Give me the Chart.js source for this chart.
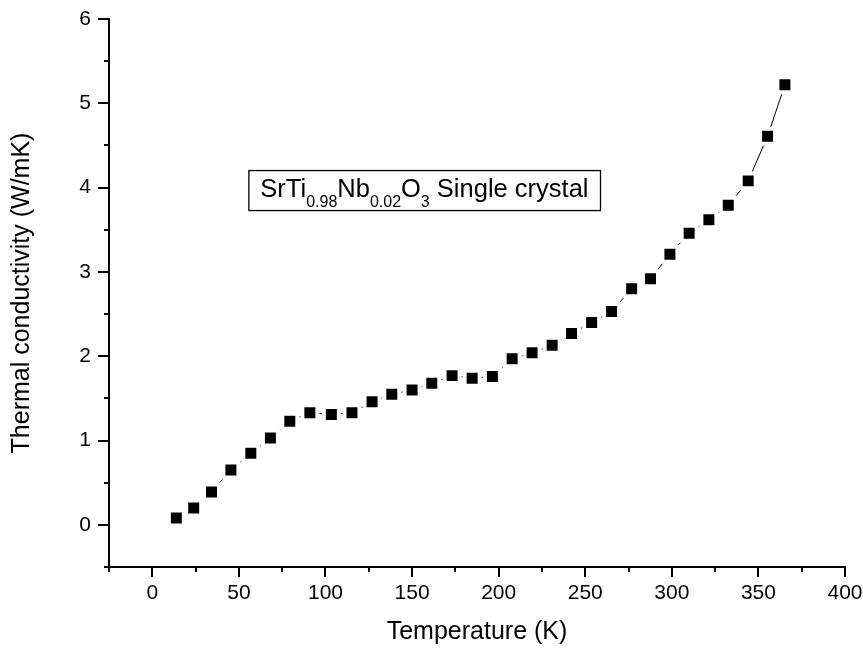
<!DOCTYPE html>
<html>
<head>
<meta charset="utf-8">
<title>Thermal conductivity</title>
<script src="https://cdn.jsdelivr.net/npm/chart.js@4.4.1/dist/chart.umd.min.js"></script>
<style>
    html, body { margin: 0; padding: 0; background: #fff; }
    #chart { display: block; }
</style>
</head>
<body>
<canvas id="chart" width="863" height="648"></canvas>
<script>
// Measured points: temperature (K) vs thermal conductivity (W/mK)
const temperature = [13.9, 23.9, 34.2, 45.4, 56.9, 68.2, 79.4, 91.0, 103.4, 115.3, 126.9, 138.3,
    150.0, 161.4, 173.1, 184.7, 196.4, 207.8, 219.3, 230.9, 242.1, 253.7, 265.2, 276.8,
    287.7, 298.9, 310.0, 321.4, 332.6, 344.1, 355.3, 365.3];
const conductivity = [0.08, 0.20, 0.39, 0.65, 0.85, 1.03, 1.23, 1.33, 1.31, 1.33, 1.46, 1.55,
    1.60, 1.68, 1.77, 1.74, 1.76, 1.97, 2.04, 2.13, 2.27, 2.40, 2.53, 2.80,
    2.92, 3.21, 3.46, 3.62, 3.79, 4.08, 4.61, 5.22];

// Minor tick positions on each axis
const xMinorTicks = [-25, 25, 75, 125, 175, 225, 275, 325, 375];
const yMinorTicks = [-0.5, 0.5, 1.5, 2.5, 3.5, 4.5, 5.5];

// Sample label, split into normal / subscript runs
const sampleLabel = [
    ['SrTi', false], ['0.98', true], ['Nb', false], ['0.02', true],
    ['O', false], ['3', true], [' Single crystal', false]
];

const FONT = "'Liberation Sans', Arial, Helvetica, sans-serif";

const points = temperature.map((t, i) => ({ x: t, y: conductivity[i] }));

// Draws the short minor ticks and the boxed sample label
const extrasPlugin = {
    id: 'extras',
    afterDraw(chart) {
        const ctx = chart.ctx;
        const xs = chart.scales.x;
        const ys = chart.scales.y;
        const area = chart.chartArea;

        ctx.save();
        ctx.strokeStyle = '#000';
        ctx.lineWidth = 2;
        ctx.beginPath();
        xMinorTicks.forEach(v => {
            const px = Math.round(xs.getPixelForValue(v));
            ctx.moveTo(px, area.bottom);
            ctx.lineTo(px, area.bottom + 5);
        });
        yMinorTicks.forEach(v => {
            const py = Math.round(ys.getPixelForValue(v));
            ctx.moveTo(area.left, py);
            ctx.lineTo(area.left - 5, py);
        });
        ctx.stroke();

        // label text, anchored in data units
        const bigFont = '25.5px ' + FONT;
        const subFont = '16px ' + FONT;
        let x = xs.getPixelForValue(62.4);
        const baseY = ys.getPixelForValue(3.888);
        const startX = x;
        ctx.fillStyle = '#000';
        ctx.textBaseline = 'alphabetic';
        ctx.textAlign = 'left';
        sampleLabel.forEach(([txt, sub]) => {
            ctx.font = sub ? subFont : bigFont;
            ctx.fillText(txt, x, sub ? baseY + 10 : baseY);
            x += ctx.measureText(txt).width;
        });
        ctx.lineWidth = 1.3;
        ctx.strokeRect(startX - 11.5, baseY - 26.5, (x - startX) + 23.5, 40);
        ctx.restore();
    }
};

const ctx = document.getElementById('chart').getContext('2d');
const chart = new Chart(ctx, {
    type: 'line',
    data: {
        datasets: [{
            data: points,
            borderColor: '#000',
            borderWidth: 1,
            tension: 0,
            pointStyle: 'rect',
            pointRadius: 10.6,
            pointBackgroundColor: '#000',
            pointBorderColor: '#fff',
            pointBorderWidth: 4,
            pointHoverRadius: 10.6,
            fill: false
        }]
    },
    options: {
        responsive: false,
        animation: false,
        events: [],
        layout: {
            padding: { top: 19, right: 18, left: 0, bottom: 0 }
        },
        plugins: {
            legend: { display: false },
            tooltip: { enabled: false }
        },
        scales: {
            x: {
                type: 'linear',
                min: -25,
                max: 400,
                afterFit: (scale) => {
                    scale.height = 81;
                    scale.paddingLeft = 0;
                    scale.paddingRight = 0;
                },
                ticks: {
                    stepSize: 50,
                    includeBounds: false,
                    maxRotation: 0,
                    color: '#000',
                    padding: 4,
                    font: { family: FONT, size: 21 }
                },
                grid: {
                    drawOnChartArea: false,
                    drawTicks: true,
                    tickLength: 10,
                    color: '#000',
                    lineWidth: 2
                },
                border: { display: true, color: '#000', width: 2 },
                title: {
                    display: true,
                    text: 'Temperature (K)',
                    color: '#000',
                    font: { family: FONT, size: 25 },
                    padding: { top: 0, bottom: 1 }
                }
            },
            y: {
                type: 'linear',
                min: -0.5,
                max: 6,
                afterFit: (scale) => {
                    scale.width = 109;
                    scale.paddingTop = 0;
                    scale.paddingBottom = 0;
                },
                ticks: {
                    stepSize: 1,
                    includeBounds: false,
                    color: '#000',
                    padding: 7,
                    font: { family: FONT, size: 21 }
                },
                grid: {
                    drawOnChartArea: false,
                    drawTicks: true,
                    tickLength: 11,
                    color: '#000',
                    lineWidth: 2
                },
                border: { display: true, color: '#000', width: 2 },
                title: {
                    display: true,
                    text: 'Thermal conductivity (W/mK)',
                    color: '#000',
                    font: { family: FONT, size: 25 },
                    padding: { top: 7, bottom: 0 }
                }
            }
        }
    },
    plugins: [extrasPlugin]
});
</script>
</body>
</html>
